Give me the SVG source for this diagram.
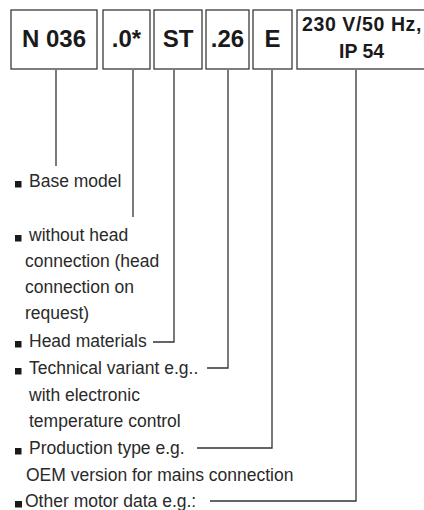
<svg xmlns="http://www.w3.org/2000/svg" width="424" height="510" viewBox="0 0 424 510">
<style>
.box{fill:#fff;stroke:#3a3a3a;stroke-width:1.3}
.code{font-family:"Liberation Sans",Arial,sans-serif;font-weight:bold;font-size:24px;fill:#1a1a1a;text-anchor:middle}
.code2{font-family:"Liberation Sans",Arial,sans-serif;font-weight:bold;font-size:19.5px;fill:#1a1a1a}
.lbl{font-family:"Liberation Sans",Arial,sans-serif;font-size:17.5px;fill:#2a2a2a}
.bul{fill:#1a1a1a}
.con{fill:none;stroke:#333;stroke-width:1.3}
</style>
<rect width="424" height="510" fill="#fff"/>
<g id="connectors">
<polyline class="con" points="56,70 56,166"/>
<polyline class="con" points="133,70 133,217"/>
<polyline class="con" points="174,70 174,342 153,342"/>
<polyline class="con" points="228,70 228,368 207,368"/>
<polyline class="con" points="272,70 272,448 197,448"/>
<polyline class="con" points="356,70 356,501 210,501"/>
</g>
<g id="n036"><rect class="box" x="11" y="10" width="86" height="59"/><text class="code" x="54" y="47">N 036</text></g>
<g id="dot0"><rect class="box" x="103" y="10" width="47" height="59"/><text class="code" x="126.5" y="47">.0*</text></g>
<g id="st"><rect class="box" x="154" y="10" width="48" height="59"/><text class="code" x="178" y="47">ST</text></g>
<g id="dot26"><rect class="box" x="206" y="10" width="43" height="59"/><text class="code" x="227.5" y="47">.26</text></g>
<g id="e"><rect class="box" x="253" y="10" width="39" height="59"/><text class="code" x="272.5" y="47">E</text></g>
<g id="motor"><rect class="box" x="297" y="10" width="140" height="59"/><text class="code2" x="302" y="31" letter-spacing="0.6">230 V/50 Hz,</text><text class="code2" x="339" y="58">IP 54</text></g>
<g id="legend">
<rect class="bul" x="15" y="181" width="6.5" height="6.5"/><text class="lbl" x="29" y="187">Base model</text>
<rect class="bul" x="15" y="235" width="6.5" height="6.5"/><text class="lbl" x="29" y="241">without head</text>
<text class="lbl" x="25" y="267">connection (head</text>
<text class="lbl" x="25" y="293">connection on</text>
<text class="lbl" x="25" y="319">request)</text>
<rect class="bul" x="15" y="341" width="6.5" height="6.5"/><text class="lbl" x="29" y="347">Head materials</text>
<rect class="bul" x="15" y="368" width="6.5" height="6.5"/><text class="lbl" x="29" y="374">Technical variant e.g..</text>
<text class="lbl" x="29" y="401">with electronic</text>
<text class="lbl" x="29" y="427">temperature control</text>
<rect class="bul" x="15" y="448" width="6.5" height="6.5"/><text class="lbl" x="29" y="454">Production type e.g.</text>
<text class="lbl" x="26" y="481">OEM version for mains connection</text>
<rect class="bul" x="15" y="501" width="7" height="6.5"/><text class="lbl" x="25" y="507">Other motor data e.g.:</text>
</g>
</svg>
